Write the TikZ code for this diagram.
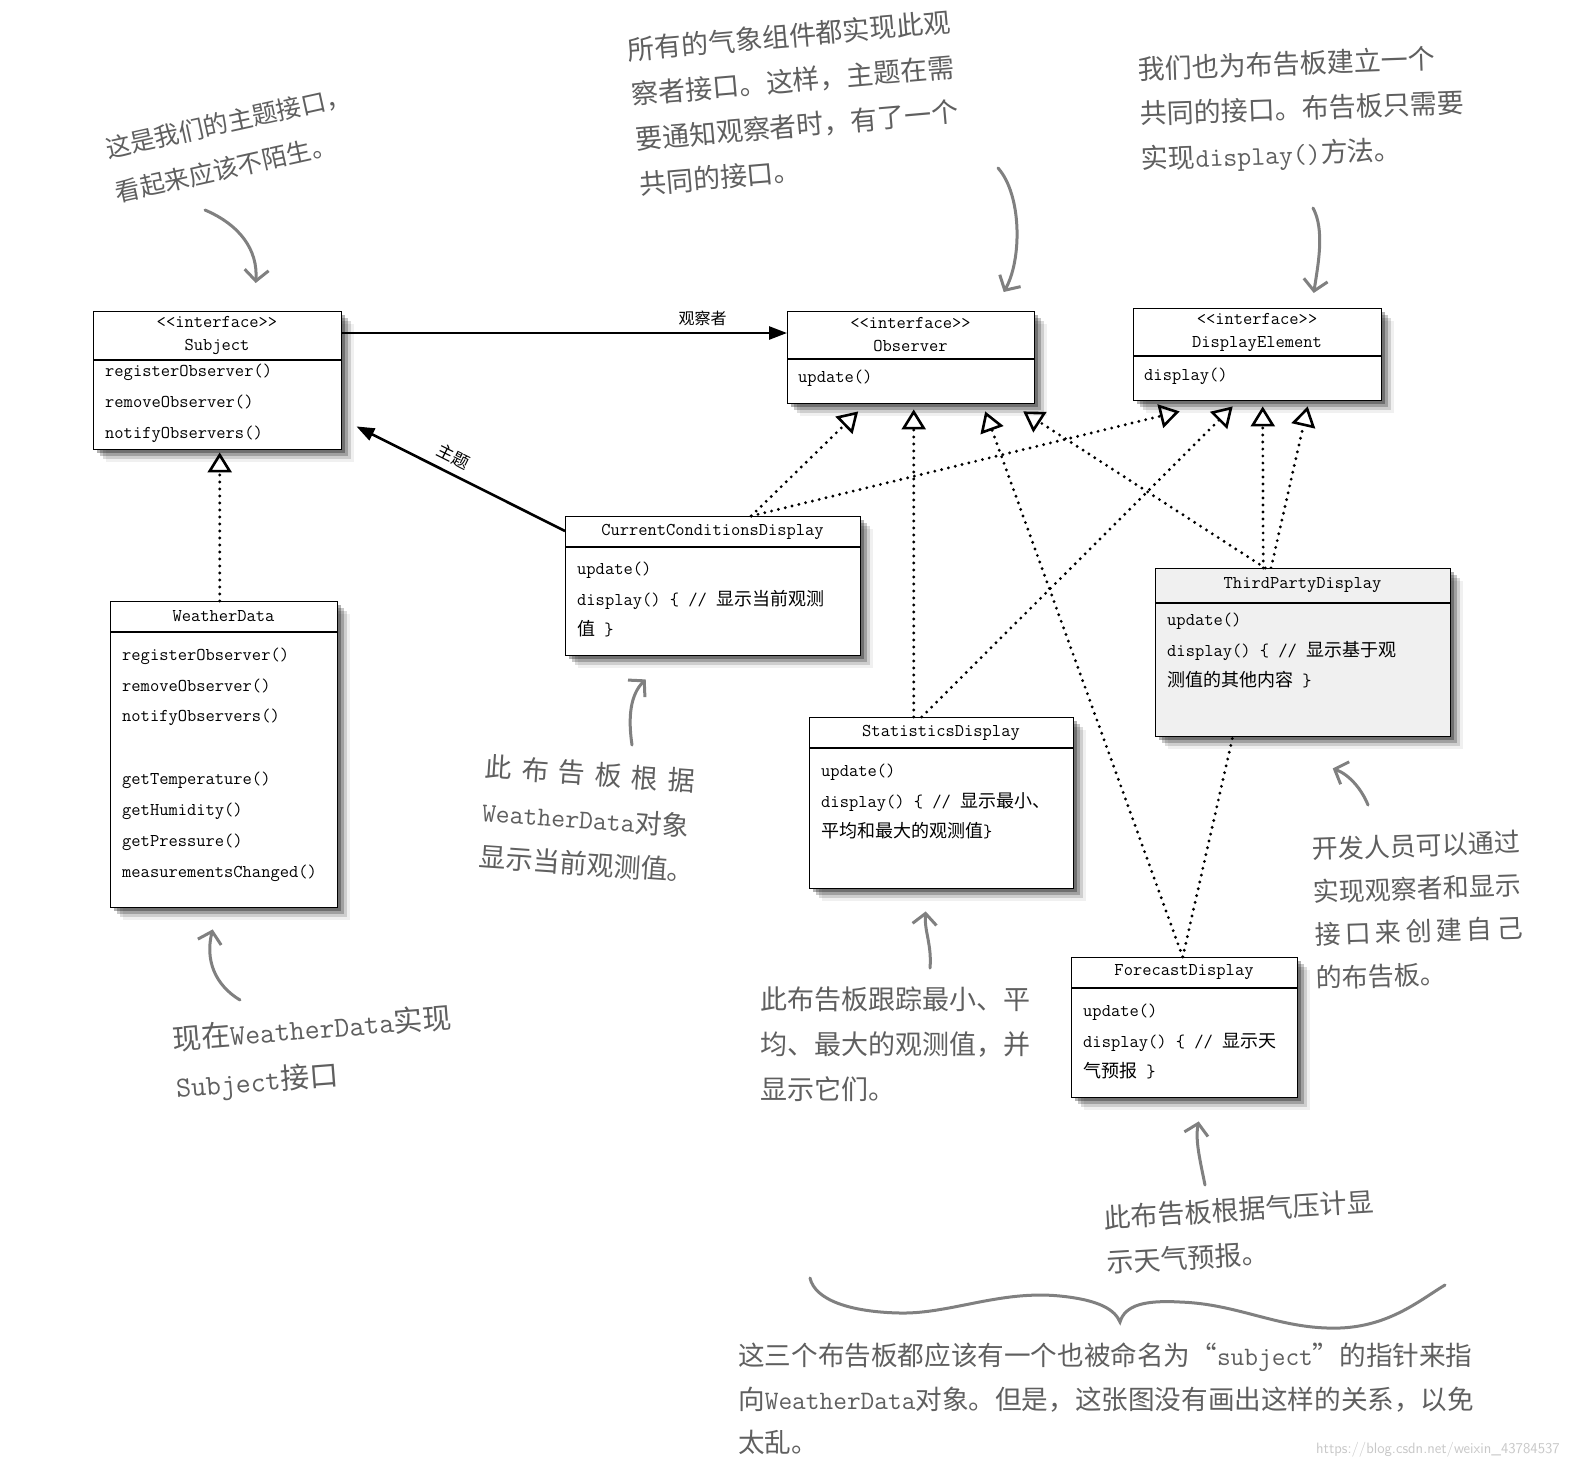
\documentclass[tikz,border=0pt]{standalone}
\usepackage{fontspec}
\newfontfamily\cjk{Noto Sans CJK SC}
\usetikzlibrary{arrows.meta,shadows}
\definecolor{notegray}{RGB}{95,95,95}
\definecolor{handgray}{RGB}{128,128,128}
\definecolor{boxgray}{RGB}{240,240,240}
\definecolor{markgray}{RGB}{200,200,200}
\pgfdeclarelayer{paper}
\pgfdeclarelayer{behind}
\pgfsetlayers{paper,behind,main}

\begin{document}
\begin{tikzpicture}[x=1pt,y=-1pt,
  class box/.style={rectangle, draw, line width=1.4pt, fill=white, inner sep=0pt, anchor=north west,
    drop shadow={shadow xshift=3pt, shadow yshift=-3pt, fill=black, opacity=0.3},
    drop shadow={shadow xshift=6pt, shadow yshift=-6pt, fill=black, opacity=0.22},
    drop shadow={shadow xshift=9pt, shadow yshift=-9pt, fill=black, opacity=0.14},
    drop shadow={shadow xshift=12pt, shadow yshift=-12pt, fill=black, opacity=0.06}},
  class title/.style={font=\ttfamily\fontsize{18}{23}\selectfont, align=center, inner sep=0pt},
  class body/.style={font=\ttfamily\fontsize{18}{30.8}\selectfont, align=left, anchor=north west, inner sep=0pt},
  realize/.style={line width=3.2pt, line cap=round, dash pattern=on 0pt off 7pt,
    -{Triangle[open,length=20pt,width=24pt,line width=2.6pt]}},
  assoc/.style={line width=2.6pt, -{Triangle[length=18pt,width=13pt]}},
  note/.style={text=notegray, font=\cjk\fontsize{27}{45}\selectfont, align=left, inner sep=0pt},
  hand/.style={draw=handgray, line width=3pt, line cap=round, -{Straight Barb[length=11pt,width=24pt]}}]

\useasboundingbox (0,0) rectangle (1570,1470);
\begin{pgfonlayer}{paper}
  \fill[white] (0,0) rectangle (1570,1470);
\end{pgfonlayer}

% interfaces
\node[class box, minimum width=248pt, minimum height=138pt] (subject) at (93,311) {};
\node[class title] (subject-title) at (217,335) {\textless\textless interface\textgreater\textgreater\\Subject};
\draw[line width=1.4pt] (93,360) -- (341,360);
\node[class body] (subject-ops) at (105,364) {registerObserver()\\removeObserver()\\notifyObservers()};

\node[class box, minimum width=247pt, minimum height=92pt] (observer) at (787,311) {};
\node[class title] (observer-title) at (910.5,335) {\textless\textless interface\textgreater\textgreater\\Observer};
\draw[line width=1.4pt] (787,359) -- (1034,359);
\node[class body] (observer-ops) at (798,369.5) {update()};

\node[class box, minimum width=248pt, minimum height=92pt] (display) at (1133,308) {};
\node[class title] (display-title) at (1257,332) {\textless\textless interface\textgreater\textgreater\\DisplayElement};
\draw[line width=1.4pt] (1133,356) -- (1381,356);
\node[class body] (display-ops) at (1144,367.5) {display()};

% classes
\node[class box, minimum width=227pt, minimum height=306pt] (wd) at (110,601) {};
\node[class title] (wd-title) at (223.5,616) {WeatherData};
\draw[line width=1.4pt] (110,632) -- (337,632);
\node[class body] (wd-ops) at (122,647.5) {registerObserver()\\removeObserver()\\notifyObservers()\\[32pt]getTemperature()\\getHumidity()\\getPressure()\\measurementsChanged()};

\node[class box, minimum width=295pt, minimum height=139pt] (ccd) at (565,516) {};
\node[class title] (ccd-title) at (712.5,531.5) {CurrentConditionsDisplay};
\draw[line width=1.4pt] (565,547) -- (860,547);
\node[class body] (ccd-ops) at (577,561.5) {update()\\display() \{ // {\cjk 显示当前观测}\\{\cjk 值} \}};

\node[class box, fill=boxgray, minimum width=295pt, minimum height=168pt] (third) at (1155,568) {};
\node[class title] (third-title) at (1302.5,585.5) {ThirdPartyDisplay};
\draw[line width=1.4pt] (1155,603) -- (1450,603);
\node[class body] (third-ops) at (1167,612.5) {update()\\display() \{ // {\cjk 显示基于观}\\{\cjk 测值的其他内容} \}};

\node[class box, minimum width=264pt, minimum height=171pt] (stats) at (809,717) {};
\node[class title] (stats-title) at (941,732.5) {StatisticsDisplay};
\draw[line width=1.4pt] (809,748) -- (1073,748);
\node[class body] (stats-ops) at (821,763.5) {update()\\display() \{ // {\cjk 显示最小、}\\{\cjk 平均和最大的观测值}\}};

\node[class box, minimum width=226pt, minimum height=140pt] (forecast) at (1071,957) {};
\node[class title] (forecast-title) at (1184,972.5) {ForecastDisplay};
\draw[line width=1.4pt] (1071,988) -- (1297,988);
\node[class body] (forecast-ops) at (1083,1003.5) {update()\\display() \{ // {\cjk 显示天}\\{\cjk 气预报} \}};

% associations
\path ([yshift=-22pt]subject.north east) [assoc] edge node[pos=0.81, above=3pt, font=\cjk\fontsize{16}{16}\selectfont] (obs-label) {观察者} ([yshift=-22pt]observer.north west);
\path ([yshift=-15pt]ccd.north west) [assoc] edge node[pos=0.57, above=4pt, sloped, font=\cjk\fontsize{17}{17}\selectfont] (subj-label) {主题} ([xshift=14pt,yshift=24pt]subject.south east);

% realizations
\path ([xshift=-4.5pt]wd.north) [realize] edge ([xshift=2pt,yshift=-2pt]subject.south);
\path ([xshift=38pt]ccd.north) [realize] edge ([xshift=-53pt,yshift=-7pt]observer.south);
\path ([xshift=38pt]ccd.north) [realize] edge ([xshift=-78pt,yshift=-10pt]display.south);
\path ([xshift=-28pt]stats.north) [realize] edge ([xshift=2.5pt,yshift=-5pt]observer.south);
\path ([xshift=-20pt]stats.north) [realize] edge ([xshift=-25pt,yshift=-5pt]display.south);
\path ([xshift=-2pt]forecast.north) [realize] edge ([xshift=74pt,yshift=-7pt]observer.south);
\path ([xshift=-38pt]third.north) [realize] edge ([xshift=112pt,yshift=-7pt]observer.south);
\path ([xshift=-40pt]third.north) [realize] edge ([xshift=5pt,yshift=-5pt]display.south);
\begin{pgfonlayer}{behind}
\path ([xshift=-2pt]forecast.north) [realize] edge ([xshift=50pt,yshift=-5pt]display.south);
\end{pgfonlayer}

% notes
\node[note, rotate=12.5, font=\cjk\fontsize{25}{45}\selectfont] (note-subject) at (233,144) {这是我们的主题接口，\\看起来应该不陌生。};
\node[note, rotate=5] (note-observer) at (795,103) {所有的气象组件都实现此观\\察者接口。这样，主题在需\\要通知观察者时，有了一个\\共同的接口。};
\node[note, rotate=2] (note-display) at (1302,110) {我们也为布告板建立一个\\共同的接口。布告板只需要\\实现{\ttfamily display()}方法。};
\node[note, rotate=-4] (note-ccd) at (590,819) {\makebox[210pt][s]{此\hfill 布\hfill 告\hfill 板\hfill 根\hfill 据}\\{\ttfamily WeatherData}对象\\显示当前观测值。};
\node[note, rotate=4.5, font=\cjk\fontsize{29}{48}\selectfont] (note-wd) at (314,1054) {现在{\ttfamily WeatherData}实现\\{\ttfamily Subject}接口};
\node[note, anchor=west] (note-stats) at (760,1044) {此布告板跟踪最小、平\\均、最大的观测值，并\\显示它们。};
\node[note, rotate=2, font=\cjk\fontsize{26}{43}\selectfont] (note-third) at (1418,910) {开发人员可以通过\\实现观察者和显示\\\makebox[208pt][s]{接\hfill 口\hfill 来\hfill 创\hfill 建\hfill 自\hfill 己}\\的布告板。};
\node[note, rotate=3.5] (note-forecast) at (1240,1232) {此布告板根据气压计显\\示天气预报。};
\node[note, anchor=west, font=\cjk\fontsize{26.6}{43.5}\selectfont] (note-all) at (738,1399) {这三个布告板都应该有一个也被命名为“{\ttfamily subject}”的指针来指\\向{\ttfamily WeatherData}对象。但是，这张图没有画出这样的关系，以免\\太乱。};
\node[anchor=east, text=markgray, font=\sffamily\fontsize{15}{15}\selectfont, inner sep=0pt] (mark) at (1560,1450) {https://blog.csdn.net/weixin\_43784537};

% hand arrows
\coordinate (h-subject) at (205,210);
\coordinate (h-observer) at (998,168);
\coordinate (h-display) at (1313,208);
\coordinate (h-ccd) at (632,745);
\coordinate (h-wd) at (240,1000);
\coordinate (h-stats) at (930,968);
\coordinate (h-third) at (1368,805);
\coordinate (h-forecast) at (1205,1185);
\draw[hand] (h-subject) .. controls (240,225) and (258,250) .. ([xshift=38pt,yshift=28pt]subject.north);
\draw[hand] (h-observer) .. controls (1022,195) and (1022,260) .. ([xshift=92.5pt,yshift=19pt]observer.north);
\draw[hand] (h-display) .. controls (1325,230) and (1318,265) .. ([xshift=56pt,yshift=15pt]display.north);
\draw[hand] (h-ccd) .. controls (628,718) and (630,695) .. ([xshift=-67.5pt,yshift=-23pt]ccd.south);
\draw[hand] (h-wd) .. controls (215,985) and (205,960) .. ([xshift=-11.5pt,yshift=-21pt]wd.south);
\draw[hand] (h-stats) .. controls (932,945) and (924,930) .. ([xshift=-16pt,yshift=-22pt]stats.south);
\draw[hand] (h-third) .. controls (1362,790) and (1350,775) .. ([xshift=29.5pt,yshift=-31pt]third.south);
\draw[hand] (h-forecast) .. controls (1200,1160) and (1195,1140) .. ([xshift=14pt,yshift=-23pt]forecast.south);

% brace
\draw[handgray, line width=3pt, line cap=round] (810,1278) .. controls (815,1300) and (850,1312) .. (900,1313)
  .. controls (950,1314) and (1000,1290) .. (1060,1296) .. controls (1100,1300) and (1115,1310) .. (1120,1322)
  .. controls (1125,1305) and (1145,1300) .. (1180,1302) .. controls (1240,1304) and (1280,1330) .. (1340,1328)
  .. controls (1390,1326) and (1420,1300) .. (1445,1285);
\end{tikzpicture}
\end{document}
